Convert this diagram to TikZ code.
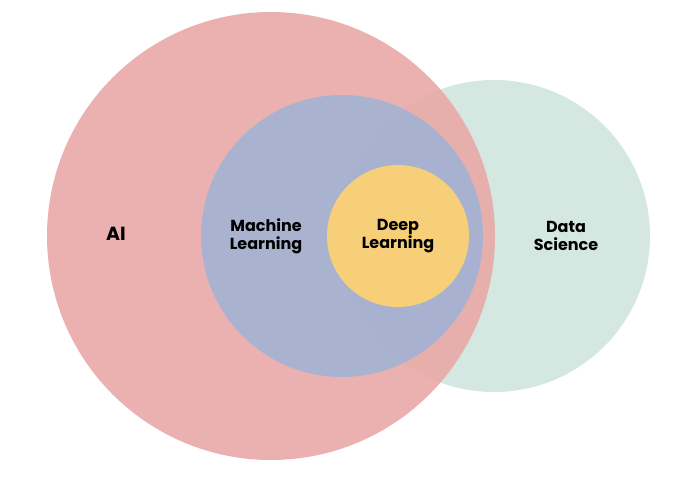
\documentclass[tikz,border=0pt]{standalone}
\usepackage{fontspec}
\setmainfont{Poppins}
\usepackage{xcolor}
\usetikzlibrary{positioning}
\definecolor{aired}{HTML}{E9A9A7}
\definecolor{mlblue}{HTML}{A2B3D4}
\definecolor{dlyellow}{HTML}{F6CF78}
\definecolor{dsgreen}{HTML}{D4E7E1}

\begin{document}
\begin{tikzpicture}[x=1pt, y=-1pt]
    \tikzstyle{field} = [circle, inner sep=0pt, text centered, align=center, font=\bfseries\fontsize{16}{18}\selectfont]
    \useasboundingbox (0,0) rectangle (686,483);

    % Data science sits behind the others
    \node [field, fill=dsgreen, minimum size=312pt] (datasci) at (494,236) {};
    \node [field, fill=aired, opacity=0.9, minimum size=448pt] (ai) at (271,236) {};
    \node [field, fill=mlblue, opacity=0.9, minimum size=282pt] (ml) at (342,236) {};
    \node [field, fill=dlyellow, minimum size=142pt] (dl) at (398,236) {};

    % Labels
    \node [font=\bfseries\fontsize{19}{21}\selectfont] (ai_label) at (116,234) {AI};
    \node [field] (ml_label) at (266,236) {Machine\\Learning};
    \node [field] (dl_label) at (398,236) {Deep\\Learning};
    \node [field] (ds_label) at (566,236) {Data\\Science};
\end{tikzpicture}
\end{document}
